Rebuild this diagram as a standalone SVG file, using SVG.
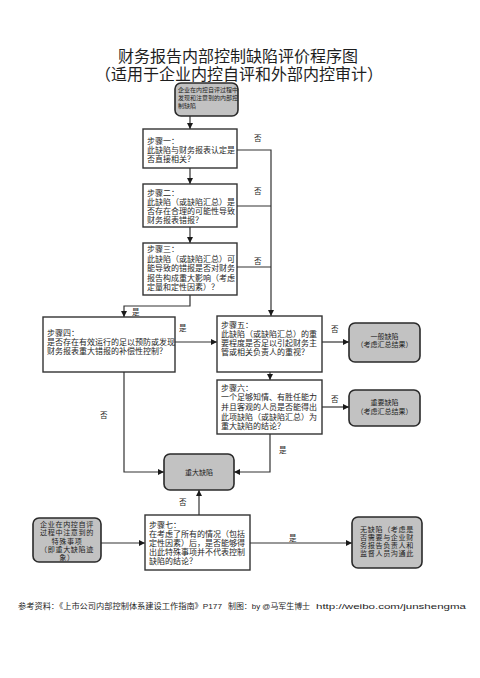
<svg xmlns="http://www.w3.org/2000/svg" width="480" height="678" viewBox="0 0 480 678">
<defs>
<marker id="ah" markerWidth="6" markerHeight="6" refX="6" refY="3" orient="auto" markerUnits="userSpaceOnUse"><path d="M0,0 L6,3 L0,6 z" fill="#1a1a1a"/></marker>
<style>
text{font-family:"Liberation Sans","Noto Sans CJK SC",sans-serif;fill:#1e1e1e}
.title{font-size:16px}
.t{font-size:8px}
.s{font-size:7px}
.m{font-size:7.1px;letter-spacing:0.6px}
.xs{font-size:6px}
.lab{font-size:7.5px}
.box{fill:#fff;stroke:#333;stroke-width:1.4}
.gbox{fill:#c2c2c2;stroke:#2a2a2a;stroke-width:1.6}
.c{fill:none;stroke:#333;stroke-width:1.2}
.ar{marker-end:url(#ah)}
.foot{font-size:7.5px}
</style>
</defs>
<rect width="480" height="678" fill="#fff"/>
<g id="title">
<text class="title" text-anchor="middle"><tspan x="238" y="62">财务报告内部控制缺陷评价程序图</tspan><tspan x="239" y="80">（适用于企业内控自评和外部内控审计）</tspan></text>
</g>
<g id="connectors">
<path class="c ar" d="M190,116 V129"/>
<path class="c ar" d="M190,168 V184"/>
<path class="c ar" d="M190,227 V243"/>
<path class="c ar" d="M237,150 H271 V316"/>
<path class="c" d="M237,206 H271"/>
<path class="c" d="M237,267 H271"/>
<path class="c ar" d="M190,295 V306 H124 V317"/>
<path class="c ar" d="M175,342 H217"/>
<path class="c ar" d="M322,342 H349"/>
<path class="c ar" d="M270,372 V380"/>
<path class="c ar" d="M322,407 H349"/>
<path class="c ar" d="M270,434 V472 H234"/>
<path class="c ar" d="M124,372 V472 H164"/>
<path class="c ar" d="M199,515 V490"/>
<path class="c ar" d="M101,543 H145"/>
<path class="c ar" d="M250,543 H352"/>
<text class="lab" x="254" y="141">否</text>
<text class="lab" x="254" y="194">否</text>
<text class="lab" x="254" y="264">否</text>
<text class="lab" x="132" y="315">是</text>
<text class="lab" x="179" y="331">是</text>
<text class="lab" x="331" y="332">否</text>
<text class="lab" x="331" y="402">否</text>
<text class="lab" x="279" y="453">是</text>
<text class="lab" x="100" y="418">否</text>
<text class="lab" x="179" y="505">否</text>
<text class="lab" x="289" y="541">是</text>
</g>
<g id="start">
<rect class="gbox" x="175" y="83" width="63" height="33" rx="6"/>
<text class="xs"><tspan x="178" y="92">企业在内控自评过程中</tspan><tspan x="178" y="100">发现和注意到的内部控</tspan><tspan x="178" y="108">制缺陷</tspan></text>
</g>
<g id="step1">
<rect class="box" x="143" y="129" width="94" height="39"/>
<text class="t"><tspan x="147" y="144">步骤一：</tspan><tspan x="147" y="153">此缺陷与财务报表认定是</tspan><tspan x="147" y="162">否直接相关？</tspan></text>
</g>
<g id="step2">
<rect class="box" x="143" y="184" width="94" height="43"/>
<text class="t"><tspan x="147" y="196">步骤二：</tspan><tspan x="147" y="205">此缺陷（或缺陷汇总）是</tspan><tspan x="147" y="214">否存在合理的可能性导致</tspan><tspan x="147" y="223">财务报表错报？</tspan></text>
</g>
<g id="step3">
<rect class="box" x="143" y="243" width="94" height="52"/>
<text class="t"><tspan x="147" y="252">步骤三：</tspan><tspan x="147" y="262">此缺陷（或缺陷汇总）可</tspan><tspan x="147" y="271">能导致的错报是否对财务</tspan><tspan x="147" y="281">报告构成重大影响（考虑</tspan><tspan x="147" y="290">定量和定性因素）？</tspan></text>
</g>
<g id="step4">
<rect class="box" x="43" y="317" width="132" height="55"/>
<text class="t"><tspan x="47" y="336">步骤四：</tspan><tspan x="47" y="345">是否存在有效运行的足以预防或发现</tspan><tspan x="47" y="354">财务报表重大错报的补偿性控制？</tspan></text>
</g>
<g id="step5">
<rect class="box" x="217" y="316" width="105" height="56"/>
<text class="t"><tspan x="221" y="328">步骤五：</tspan><tspan x="221" y="337">此缺陷（或缺陷汇总）的重</tspan><tspan x="221" y="346">要程度是否足以引起财务主</tspan><tspan x="221" y="355">管或相关负责人的重视？</tspan></text>
</g>
<g id="general">
<rect class="gbox" x="349" y="323" width="71" height="39" rx="6"/>
<text class="s" text-anchor="middle"><tspan x="384.5" y="339">一般缺陷</tspan><tspan x="384.5" y="347">（考虑汇总结果）</tspan></text>
</g>
<g id="step6">
<rect class="box" x="217" y="380" width="105" height="54"/>
<text class="t"><tspan x="221" y="391">步骤六：</tspan><tspan x="221" y="400">一个足够知情、有胜任能力</tspan><tspan x="221" y="410">并且客观的人员是否能得出</tspan><tspan x="221" y="420">此项缺陷（或缺陷汇总）为</tspan><tspan x="221" y="429">重大缺陷的结论？</tspan></text>
</g>
<g id="significant">
<rect class="gbox" x="349" y="390" width="71" height="36" rx="6"/>
<text class="s" text-anchor="middle"><tspan x="384.5" y="405">重要缺陷</tspan><tspan x="384.5" y="414">（考虑汇总结果）</tspan></text>
</g>
<g id="material">
<rect class="gbox" x="164" y="454" width="70" height="36" rx="6"/>
<text class="s" x="199" y="475" text-anchor="middle">重大缺陷</text>
</g>
<g id="special">
<rect class="gbox" x="33" y="518" width="68" height="44" rx="6"/>
<text class="m" text-anchor="middle"><tspan x="67" y="527">企业在内控自评</tspan><tspan x="67" y="535">过程中注意到的</tspan><tspan x="67" y="544">特殊事项</tspan><tspan x="67" y="552">（即重大缺陷迹</tspan><tspan x="67" y="560">象）</tspan></text>
</g>
<g id="step7">
<rect class="box" x="145" y="515" width="105" height="55"/>
<text class="t"><tspan x="149" y="528">步骤七：</tspan><tspan x="149" y="537">在考虑了所有的情况（包括</tspan><tspan x="149" y="546">定性因素）后，是否能够得</tspan><tspan x="149" y="555">出此特殊事项并不代表控制</tspan><tspan x="149" y="564">缺陷的结论？</tspan></text>
</g>
<g id="nodefect">
<rect class="gbox" x="352" y="517" width="70" height="51" rx="6"/>
<text class="m" text-anchor="middle"><tspan x="387" y="532">无缺陷（考虑是</tspan><tspan x="387" y="540">否需要与企业财</tspan><tspan x="387" y="548">务报告负责人和</tspan><tspan x="387" y="556">监督人员沟通此</tspan></text>
</g>
<g id="footer">
<text class="foot" x="18" y="609" textLength="204" lengthAdjust="spacingAndGlyphs">参考资料：《上市公司内部控制体系建设工作指南》P177</text>
<text class="foot" x="228" y="609" textLength="82" lengthAdjust="spacingAndGlyphs">制图：by @马军生博士</text>
<text class="foot" x="316" y="609" textLength="150" lengthAdjust="spacingAndGlyphs">http://weibo.com/junshengma</text>
</g>
</svg>
